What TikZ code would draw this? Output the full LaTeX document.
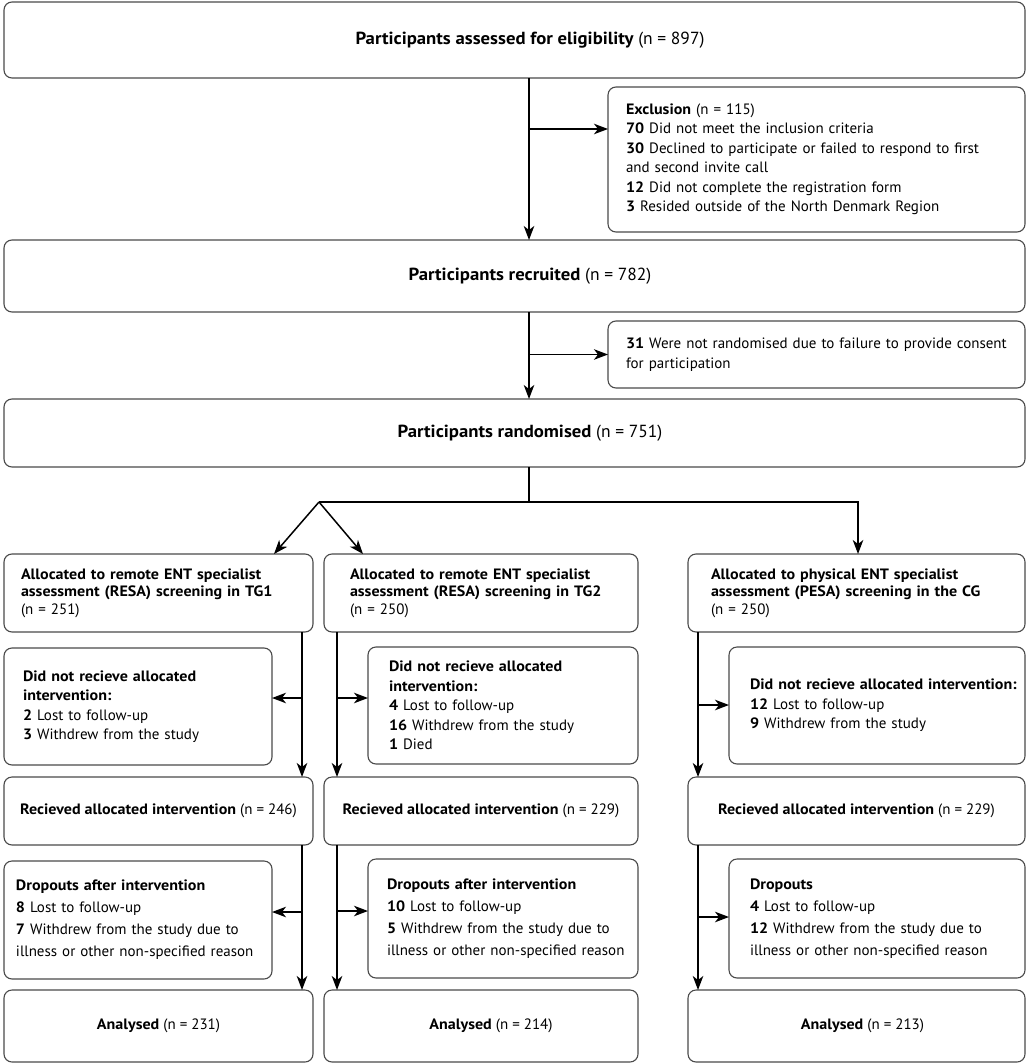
\documentclass[tikz,border=0pt]{standalone}
\usepackage{fontspec}
\setmainfont{PT Sans}[BoldFeatures={FakeStretch=1.07}]
\usetikzlibrary{arrows.meta}
\definecolor{boxgray}{HTML}{4A4A4A}
\begin{document}
\begin{tikzpicture}[x=1pt,y=-1pt,
  box/.style={draw=boxgray, line width=1.1pt, rounded corners=8pt, anchor=north west,
    inner ysep=0pt, outer sep=0pt, align=left},
  cbox/.style={box, align=center, inner xsep=0pt, font=\fontsize{15}{19}\selectfont},
  bigtext/.style={font=\fontsize{17.5}{21}\selectfont},
  sp17/.style={font=\fontsize{15}{17.5}\selectfont},
  sp19/.style={font=\fontsize{15}{19.5}\selectfont},
  sp22/.style={font=\fontsize{15}{22}\selectfont},
  conn/.style={line width=1.5pt, black},
  arr/.style={conn, -{Stealth[length=14pt,width=10.5pt,inset=4pt]}},
]
\useasboundingbox (0,0) rectangle (1029,1064);

% ---- top section ----
\node[cbox, bigtext, minimum width=1021pt, minimum height=76pt] (top) at (4,2)
  {\hspace*{31pt}\textbf{Participants assessed for eligibility} (n = 897)};
\node[box, sp19, minimum height=145pt, inner xsep=18pt, text width=381pt] (excl) at (608,87)
  {\textbf{Exclusion} (n = 115)\\
   \textbf{70} Did not meet the inclusion criteria\\
   \textbf{30} Declined to participate or failed to respond to first\\
   and second invite call\\
   \textbf{12} Did not complete the registration form\\
   \textbf{3} Resided outside of the North Denmark Region};
\node[cbox, bigtext, minimum width=1021pt, minimum height=72pt] (recr) at (4,240)
  {\hspace*{31pt}\textbf{Participants recruited} (n = 782)};
\node[box, sp19, minimum height=67pt, inner xsep=18pt, text width=381pt] (cons) at (608,321)
  {\mbox{\textbf{31} Were not randomised due to failure to provide consent}\\
   for participation};
\node[cbox, bigtext, minimum width=1021pt, minimum height=68pt] (rand) at (4,399)
  {\hspace*{31pt}\textbf{Participants randomised} (n = 751)};

% ---- allocation ----
\node[box, sp17, minimum height=78pt, inner xsep=17pt, text width=275pt] (a1) at (4,554)
  {\textbf{Allocated to remote ENT specialist}\\
   \mbox{\textbf{assessment (RESA) screening in TG1}}\\
   (n = 251)};
\node[box, sp17, minimum height=78pt, inner xsep=26pt, text width=262pt] (a2) at (324,554)
  {\textbf{Allocated to remote ENT specialist}\\
   \mbox{\textbf{assessment (RESA) screening in TG2}}\\
   (n = 250)};
\node[box, sp17, minimum height=78pt, inner xsep=23pt, text width=291pt] (a3) at (688,554)
  {\textbf{Allocated to physical ENT specialist}\\
   \mbox{\textbf{assessment (PESA) screening in the CG}}\\
   (n = 250)};

% ---- did not receive ----
\node[box, sp19, minimum height=117pt, inner xsep=19pt, text width=230pt] (d1) at (4,648)
  {\textbf{Did not recieve allocated}\\
   \textbf{intervention:}\\
   \textbf{2} Lost to follow-up\\
   \textbf{3} Withdrew from the study};
\node[box, sp19, minimum height=117pt, inner xsep=21pt, text width=228pt] (d2) at (368,647)
  {\textbf{Did not recieve allocated}\\
   \textbf{intervention:}\\
   \textbf{4} Lost to follow-up\\
   \textbf{16} Withdrew from the study\\
   \textbf{1} Died};
\node[box, sp19, minimum height=117pt, inner xsep=21pt, text width=254pt] (d3) at (729,647)
  {\mbox{\textbf{Did not recieve allocated intervention:}}\\
   \textbf{12} Lost to follow-up\\
   \textbf{9} Withdrew from the study\\[6pt]};

% ---- received ----
\node[cbox, minimum width=309pt, minimum height=68pt] (r1) at (4,777)
  {\textbf{Recieved allocated intervention} (n = 246)};
\node[cbox, minimum width=314pt, minimum height=68pt] (r2) at (324,777)
  {\textbf{Recieved allocated intervention} (n = 229)};
\node[cbox, minimum width=337pt, minimum height=68pt] (r3) at (688,777)
  {\textbf{Recieved allocated intervention} (n = 229)};

% ---- dropouts ----
\node[box, sp22, minimum height=118pt, inner xsep=12pt, text width=244pt] (o1) at (4,861)
  {\textbf{Dropouts after intervention}\\
   \textbf{8} Lost to follow-up\\
   \textbf{7} Withdrew from the study due to\\
   \mbox{illness or other non-specified reason}};
\node[box, sp22, minimum height=119pt, inner xsep=19pt, text width=232pt] (o2) at (368,859)
  {\textbf{Dropouts after intervention}\\
   \textbf{10} Lost to follow-up\\
   \textbf{5} Withdrew from the study due to\\
   \mbox{illness or other non-specified reason}};
\node[box, sp22, minimum height=119pt, inner xsep=21pt, text width=254pt] (o3) at (729,859)
  {\textbf{Dropouts}\\
   \textbf{4} Lost to follow-up\\
   \textbf{12} Withdrew from the study due to\\
   \mbox{illness or other non-specified reason}};

% ---- analysed ----
\node[cbox, minimum width=309pt, minimum height=72pt] (n1) at (4,990)
  {\textbf{Analysed} (n = 231)};
\node[cbox, minimum width=314pt, minimum height=72pt] (n2) at (324,990)
  {\hspace*{20pt}\textbf{Analysed} (n = 214)};
\node[cbox, minimum width=337pt, minimum height=72pt] (n3) at (688,990)
  {\hspace*{12pt}\textbf{Analysed} (n = 213)};

% ---- helper coordinates ----
\coordinate (xm) at (529,0);
\coordinate (e1) at (529,129);
\coordinate (split) at (529,502);
\coordinate (apex) at (319,502);
\coordinate (t1) at (274,0);
\coordinate (t2) at (363,0);
\coordinate (cgx) at (858,0);
\coordinate (c1) at (302,0);
\coordinate (c2) at (337,0);
\coordinate (c3) at (698,0);
\coordinate (s1) at (302,698);
\coordinate (s2) at (337,698);
\coordinate (s3) at (698,705);
\coordinate (u1) at (302,912);
\coordinate (u2) at (337,911);
\coordinate (u3) at (698,917);

% ---- connectors ----
\draw[arr] (top.south -| xm) -- (recr.north -| xm);
\draw[arr] (e1) -- (e1 -| excl.west);
\draw[arr] (recr.south -| xm) -- (rand.north -| xm);
\draw[arr] (xm |- cons.west) -- (cons.west);
\draw[conn] (rand.south -| xm) -- (split);
\draw[conn] (apex) -- (split);
\draw[arr] (split) -| (a3.north -| cgx);
\draw[arr] (apex) -- (a1.north -| t1);
\draw[arr] (apex) -- (a2.north -| t2);

\draw[arr] (a1.south -| c1) -- (r1.north -| c1);
\draw[arr] (a2.south -| c2) -- (r2.north -| c2);
\draw[arr] (a3.south -| c3) -- (r3.north -| c3);
\draw[arr] (s1) -- (s1 -| d1.east);
\draw[arr] (s2) -- (s2 -| d2.west);
\draw[arr] (s3) -- (s3 -| d3.west);

\draw[arr] (r1.south -| c1) -- (n1.north -| c1);
\draw[arr] (r2.south -| c2) -- (n2.north -| c2);
\draw[arr] (r3.south -| c3) -- (n3.north -| c3);
\draw[arr] (u1) -- (u1 -| o1.east);
\draw[arr] (u2) -- (u2 -| o2.west);
\draw[arr] (u3) -- (u3 -| o3.west);
\end{tikzpicture}
\end{document}
